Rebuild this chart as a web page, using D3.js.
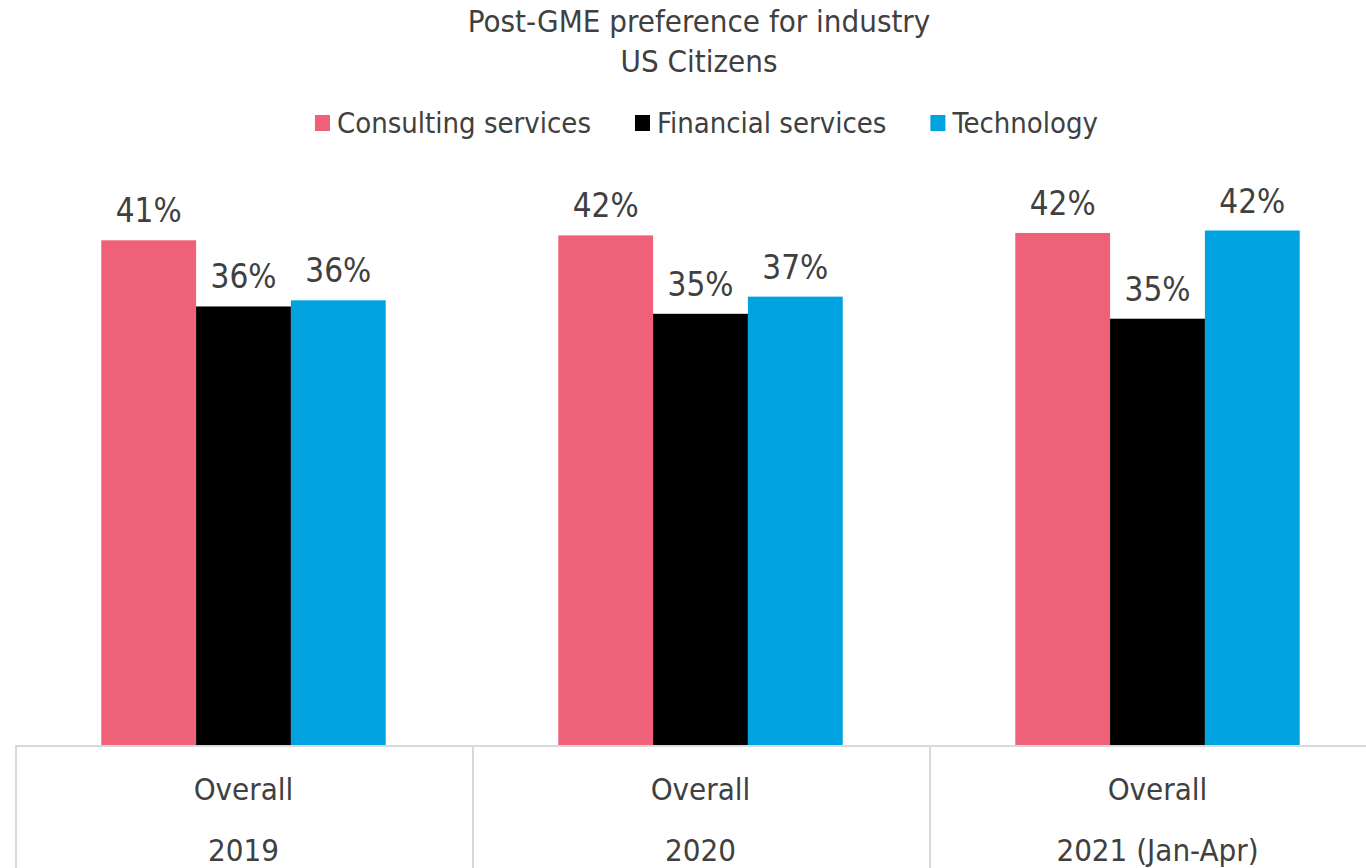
<!DOCTYPE html>
<html>
<head>
<meta charset="utf-8">
<script src="https://cdn.jsdelivr.net/npm/d3@7"></script>
<style>
  html, body { margin: 0; padding: 0; background: #fff; overflow: hidden; }
  text { font-family: "DejaVu Sans Condensed", "DejaVu Sans", sans-serif; font-stretch: condensed; fill: #404040; }
</style>
</head>
<body>
<svg id="chart" width="1366" height="868"></svg>
<script>
const periods = ['2019', '2020', '2021 (Jan-Apr)'];
const groupLabel = 'Overall';
const series = ['Consulting services', 'Financial services', 'Technology'];
const colors = ['#EF6079', '#000000', '#00A2E0'];
// percent values per series, one per period
const consulting = [41.2, 41.6, 41.8];
const financial = [35.8, 35.2, 34.8];
const technology = [36.3, 36.6, 42.0];

const values = [consulting, financial, technology];
const data = periods.map((p, i) => ({
  period: p,
  vals: series.map((s, j) => ({ key: s, value: values[j][i], color: colors[j] }))
}));

const width = 1366;
const height = 868;
const baseline = 745;

const svg = d3.select('#chart');

const x0 = d3.scaleBand()
  .domain(periods)
  .range([15, 1386])
  .padding(0);

const x1 = d3.scaleBand()
  .domain(series)
  .range([0, x0.bandwidth()])
  .paddingInner(0)
  .paddingOuter(0.91);

const y = d3.scaleLinear()
  .domain([0, 50])
  .range([baseline, baseline - 612.5]);

// title
const title = svg.append('text')
  .attr('x', 699)
  .attr('y', 32)
  .attr('text-anchor', 'middle')
  .style('font-size', '31px');
title.append('tspan').attr('x', 699).text('Post-GME preference for industry');
title.append('tspan').attr('x', 699).attr('y', 72).text('US Citizens');

// legend
const legend = svg.append('g');
let lx = 0;
series.forEach((s, i) => {
  const item = legend.append('g').attr('transform', `translate(${lx},0)`);
  item.append('rect')
    .attr('x', 0).attr('y', 115)
    .attr('width', 15).attr('height', 16)
    .attr('fill', colors[i]);
  const t = item.append('text')
    .attr('x', 22).attr('y', 133)
    .style('font-size', '29px')
    .text(s);
  lx += 22 + t.node().getComputedTextLength() + 44;
});
const legendW = lx - 44;
legend.attr('transform', `translate(${706.5 - legendW / 2},0)`);

// table lines
const grid = svg.append('g')
  .attr('stroke', '#d9d9d9')
  .attr('stroke-width', 2);
grid.append('line')
  .attr('x1', 15).attr('x2', width)
  .attr('y1', baseline + 1).attr('y2', baseline + 1);
grid.selectAll('.vline')
  .data(periods)
  .enter().append('line')
    .attr('class', 'vline')
    .attr('x1', d => x0(d) + 1).attr('x2', d => x0(d) + 1)
    .attr('y1', baseline + 1).attr('y2', height);

// bars
const groups = svg.selectAll('.group')
    .data(data)
  .enter().append('g')
    .attr('class', 'group')
    .attr('transform', d => `translate(${x0(d.period)},0)`);

groups.selectAll('rect')
    .data(d => d.vals)
  .enter().append('rect')
    .attr('x', d => x1(d.key))
    .attr('y', d => y(d.value))
    .attr('width', x1.bandwidth())
    .attr('height', d => baseline - y(d.value))
    .attr('fill', d => d.color);

groups.selectAll('.label')
    .data(d => d.vals)
  .enter().append('text')
    .attr('class', 'label')
    .attr('x', d => x1(d.key) + x1.bandwidth() / 2)
    .attr('y', d => y(d.value) - 18)
    .attr('text-anchor', 'middle')
    .style('font-size', '33px')
    .text(d => Math.round(d.value) + '%');

// category labels
const cats = svg.selectAll('.cat')
    .data(periods)
  .enter().append('g')
    .attr('class', 'cat');
cats.append('text')
  .attr('x', d => x0(d) + x0.bandwidth() / 2)
  .attr('y', 800)
  .attr('text-anchor', 'middle')
  .style('font-size', '31px')
  .text(groupLabel);
cats.append('text')
  .attr('x', d => x0(d) + x0.bandwidth() / 2)
  .attr('y', 861)
  .attr('text-anchor', 'middle')
  .style('font-size', '31px')
  .text(d => d);
</script>
</body>
</html>
